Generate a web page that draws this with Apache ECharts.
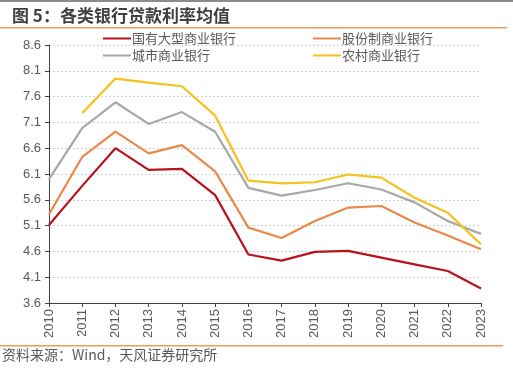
<!DOCTYPE html>
<html>
<head>
<meta charset="utf-8">
<script src="https://cdn.jsdelivr.net/npm/echarts@6/dist/echarts.min.js"></script>
<style>html,body{margin:0;padding:0;background:#fff;}#c{width:513px;height:368px;}</style>
</head>
<body>
<div id="c"></div>
<script>
const years = ['2010','2011','2012','2013','2014','2015','2016','2017','2018','2019','2020','2021','2022','2023'];
const seriesNames = ['国有大型商业银行','股份制商业银行','城市商业银行','农村商业银行'];
const bigState = [5.11,5.87,6.60,6.18,6.20,5.69,4.54,4.42,4.59,4.61,4.48,4.35,4.22,3.88];
const jointStock = [5.32,6.43,6.92,6.50,6.66,6.15,5.06,4.86,5.19,5.45,5.48,5.16,4.91,4.64];
const cityComm = [6.00,6.99,7.49,7.07,7.30,6.92,5.83,5.68,5.79,5.92,5.80,5.55,5.19,4.94];
const ruralComm = [null,7.28,7.95,7.87,7.80,7.23,5.97,5.92,5.94,6.09,6.03,5.64,5.35,4.74];
const yTicks = [3.6,4.1,4.6,5.1,5.6,6.1,6.6,7.1,7.6,8.1,8.6];
const titleText = '图 5：各类银行贷款利率均值';
const sourceText = '资料来源：Wind，天风证券研究所';

const colors = ['#B8121C','#E8884A','#A8A8A8','#F6C21A'];
const dataSets = [bigState, jointStock, cityComm, ruralComm];
const legendPos = [[103,32],[313,32],[103,49],[313,49]];

const chart = echarts.init(document.getElementById('c'));
chart.setOption({
  animation: false,
  backgroundColor: '#fff',
  color: colors,
  title: {
    text: titleText,
    left: 7, top: 2,
    textStyle: {fontFamily: 'Noto Sans CJK SC', fontSize: 17, fontWeight: 'bold', color: '#404040'}
  },
  graphic: [
    {type: 'rect', shape: {x: 0, y: 0, width: 513, height: 2}, style: {fill: '#8c8c8c'}},
    {type: 'rect', shape: {x: 0, y: 27, width: 507, height: 1.5}, style: {fill: '#EE9A5A'}},
    {type: 'rect', shape: {x: 0, y: 345, width: 503, height: 1.5}, style: {fill: '#EE9A5A'}},
    {type: 'text', left: 2, top: 348, style: {text: sourceText, fontFamily: 'Noto Sans CJK SC', fontSize: 14, fill: '#595959'}}
  ],
  legend: seriesNames.map((n, i) => ({
    left: legendPos[i][0], top: legendPos[i][1],
    itemWidth: 28, itemHeight: 2, icon: 'rect', padding: 0,
    data: [n],
    textStyle: {fontFamily: 'Noto Sans CJK SC', fontSize: 13, color: '#595959', padding: [0,0,0,-4]}
  })),
  grid: {left: 49, right: 32, top: 45, bottom: 65, containLabel: false},
  xAxis: {
    type: 'category', data: years, boundaryGap: false,
    axisLine: {lineStyle: {color: '#404040', width: 1}},
    axisTick: {show: true, alignWithLabel: true, length: 4, lineStyle: {color: '#404040'}},
    axisLabel: {rotate: 90, color: '#595959', fontFamily: 'Liberation Sans', fontSize: 13, margin: 6, interval: 0}
  },
  yAxis: {
    type: 'value', min: 3.6, max: 8.6, interval: 0.5,
    axisLine: {show: true, lineStyle: {color: '#404040', width: 1}},
    axisTick: {show: true, length: 4, lineStyle: {color: '#404040'}},
    axisLabel: {color: '#595959', fontFamily: 'Liberation Sans', fontSize: 13, margin: 8, formatter: v => v.toFixed(1)},
    splitLine: {show: true, lineStyle: {color: '#D0D0D0', type: [2,2], width: 1}}
  },
  series: dataSets.map((d, i) => ({
    name: seriesNames[i], type: 'line', data: d, symbol: 'none',
    lineStyle: {width: 2.2, color: colors[i]}, itemStyle: {color: colors[i]},
    connectNulls: false
  }))
});
</script>
</body>
</html>
